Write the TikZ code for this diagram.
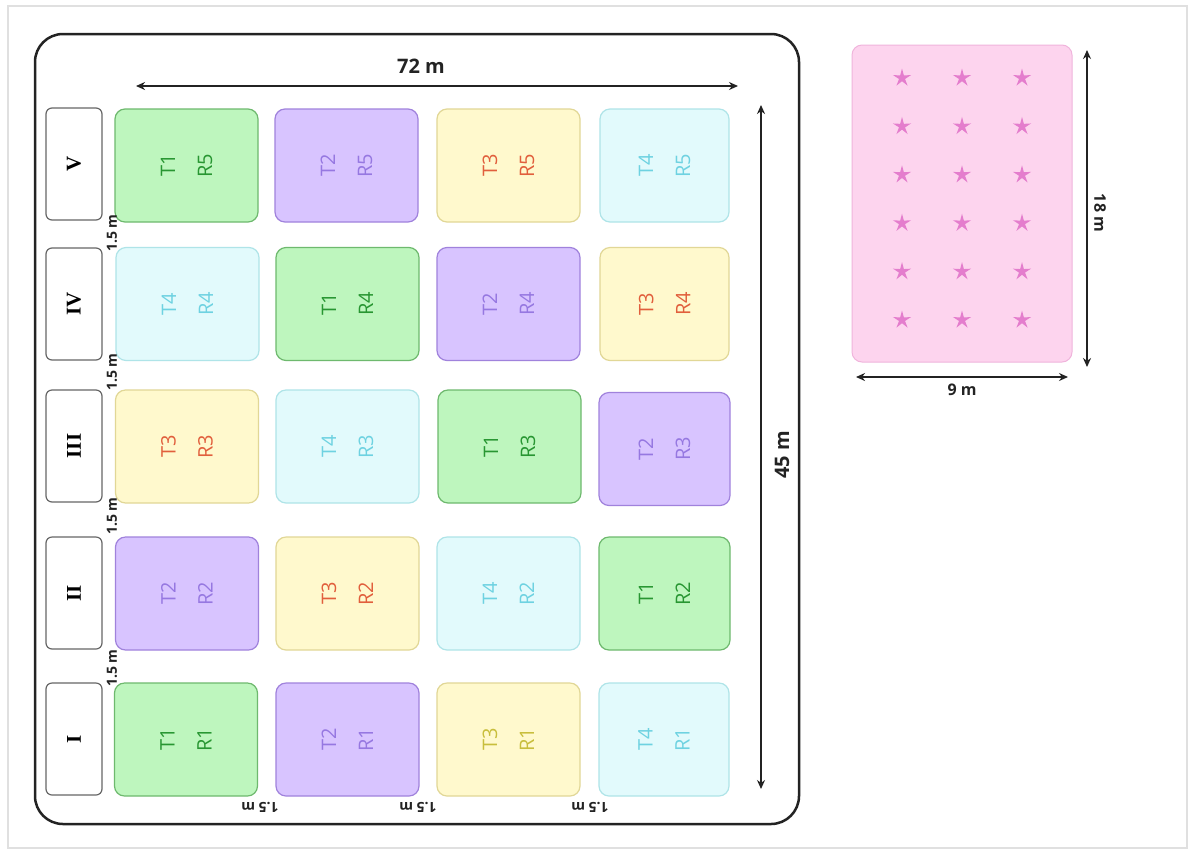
\documentclass[tikz,border=0pt]{standalone}
\usepackage{fontspec}
\setmainfont{Open Sans}
\newfontfamily\serifb{Liberation Serif}
\usetikzlibrary{arrows.meta,shapes.geometric}
\definecolor{dk}{RGB}{35,35,35}
\definecolor{gF}{RGB}{190,246,190}
\definecolor{gD}{RGB}{110,185,110}
\definecolor{gT}{RGB}{40,150,50}
\definecolor{pF}{RGB}{216,196,255}
\definecolor{pD}{RGB}{160,130,220}
\definecolor{pT}{RGB}{150,120,225}
\definecolor{yF}{RGB}{255,249,205}
\definecolor{yD}{RGB}{225,215,150}
\definecolor{yT}{RGB}{225,95,60}
\definecolor{yT1}{RGB}{200,190,60}
\definecolor{cF}{RGB}{226,250,252}
\definecolor{cD}{RGB}{175,228,232}
\definecolor{cT}{RGB}{110,210,225}
\definecolor{kF}{RGB}{253,212,238}
\definecolor{kD}{RGB}{240,180,220}
\definecolor{kS}{RGB}{228,125,205}
\begin{document}
\begin{tikzpicture}[x=1pt,y=-1pt,
  cellbox/.style={draw, rounded corners=10pt, line width=1.2pt, rotate=90,
    minimum width=113pt, minimum height=143pt, align=center, inner sep=0pt,
    font=\fontsize{20}{37}\selectfont},
  tone/.style={cellbox, fill=gF, draw=gD, text=gT},
  ttwo/.style={cellbox, fill=pF, draw=pD, text=pT},
  tthree/.style={cellbox, fill=yF, draw=yD, text=yT},
  tfour/.style={cellbox, fill=cF, draw=cD, text=cT},
  rowbox/.style={draw=black!60, rounded corners=6pt, line width=1.2pt, rotate=90,
    minimum width=112pt, minimum height=56pt, inner sep=0pt,
    font=\serifb\bfseries\fontsize{21}{24}\selectfont},
  dimline/.style={{Stealth[length=9pt,width=8pt]}-{Stealth[length=9pt,width=8pt]}, line width=1.8pt, draw=dk},
  dimlabel/.style={font=\bfseries\fontsize{20}{24}\selectfont, text=dk, inner sep=0pt},
  smalllabel/.style={font=\bfseries\fontsize{14}{16}\selectfont, text=dk, inner sep=0pt},
  starmark/.style={star, star points=5, star point ratio=3, minimum size=19pt, inner sep=0pt, fill=kS, draw=none}
]
\path[fill=white, use as bounding box] (0,0) rectangle (1190,852);
\draw[black!12, line width=1.5pt] (8,6) rectangle (1187,848);

% outer field
\draw[dk, line width=2.5pt, rounded corners=28pt] (35,34) rectangle (799,824);

% row labels
\node[rowbox] (rV)   at (74,164) {V};
\node[rowbox] (rIV)  at (74,304) {IV};
\node[rowbox] (rIII) at (74,446) {III};
\node[rowbox] (rII)  at (74,593) {II};
\node[rowbox] (rI)   at (74,739) {I};

% row V
\node[tone]   (c51) at (186.5,165.5) {T1\\R5};
\node[ttwo]   (c52) at (346.5,165.5) {T2\\R5};
\node[tthree] (c53) at (508.5,165.5) {T3\\R5};
\node[tfour, minimum height=129pt] (c54) at (664.5,165.5) {T4\\R5};
% row IV
\node[tfour]  (c41) at (187.5,304) {T4\\R4};
\node[tone]   (c42) at (347.5,304) {T1\\R4};
\node[ttwo]   (c43) at (508.5,304) {T2\\R4};
\node[tthree, minimum height=129pt] (c44) at (664.5,304) {T3\\R4};
% row III
\node[tthree] (c31) at (187,446.5) {T3\\R3};
\node[tfour]  (c32) at (347.5,446.5) {T4\\R3};
\node[tone]   (c33) at (509.5,446.5) {T1\\R3};
\node[ttwo, minimum height=131pt] (c34) at (664.5,449) {T2\\R3};
% row II
\node[ttwo]   (c21) at (187,593.5) {T2\\R2};
\node[tthree] (c22) at (347.5,593.5) {T3\\R2};
\node[tfour]  (c23) at (508.5,593.5) {T4\\R2};
\node[tone, minimum height=131pt] (c24) at (664.5,593.5) {T1\\R2};
% row I
\node[tone]   (c11) at (186,739.5) {T1\\R1};
\node[ttwo]   (c12) at (347.5,739.5) {T2\\R1};
\node[tthree, text=yT1] (c13) at (508.5,739.5) {T3\\R1};
\node[tfour, minimum height=130pt] (c14) at (664,739.5) {T4\\R1};

% 1.5 m labels
\node[smalllabel, rotate=90] (g1) at (112,233) {1.5 m};
\node[smalllabel, rotate=90] (g2) at (112,372) {1.5 m};
\node[smalllabel, rotate=90] (g3) at (112,516) {1.5 m};
\node[smalllabel, rotate=90] (g4) at (112,668) {1.5 m};
\node[smalllabel, rotate=180] (b1) at (260,807) {1.5 m};
\node[smalllabel, rotate=180] (b2) at (418,807) {1.5 m};
\node[smalllabel, rotate=180] (b3) at (590,807) {1.5 m};

% 72 m and 45 m
\coordinate (wL) at (136,86);
\coordinate (wR) at (738,86);
\draw[dimline] (wL) -- (wR);
\node[dimlabel] (w72) at (421,66) {72 m};
\coordinate (hT) at (761,105);
\coordinate (hB) at (761,789);
\draw[dimline] (hT) -- (hB);
\node[dimlabel, rotate=90] (h45) at (782,455) {45 m};

% nursery plot
\draw[fill=kF, draw=kD, line width=1pt, rounded corners=10pt] (852,45) rectangle (1072,362);
\foreach \i in {1,2,3}{
  \foreach \j in {1,...,6}{
    \node[starmark] (s\i\j) at ({842+60*\i},{29.6+48.4*\j}) {};
  }
}
\coordinate (pT) at (1087,50);
\coordinate (pB) at (1087,367);
\draw[dimline] (pT) -- (pB);
\node[dimlabel, font=\bfseries\fontsize{16}{20}\selectfont, rotate=-90] (p18) at (1100,213) {18 m};
\coordinate (qL) at (856,377);
\coordinate (qR) at (1068,377);
\draw[dimline] (qL) -- (qR);
\node[dimlabel, font=\bfseries\fontsize{16}{20}\selectfont] (q9) at (962,390) {9 m};
\end{tikzpicture}
\end{document}
